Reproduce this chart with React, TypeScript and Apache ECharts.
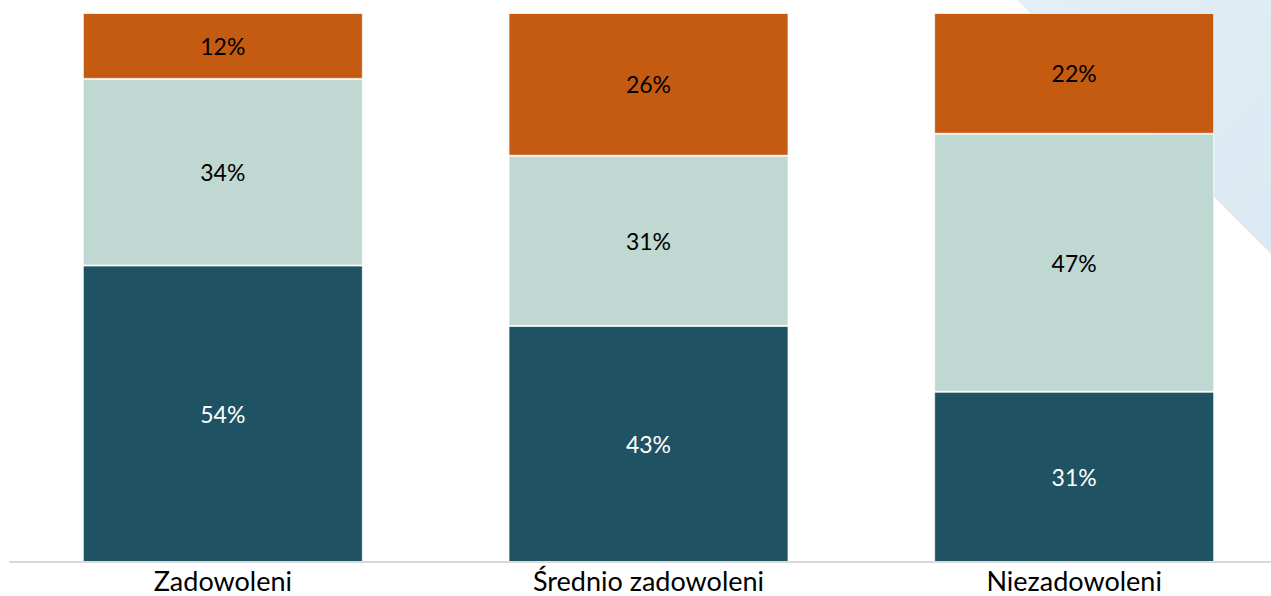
import React, { useEffect, useRef } from "react";
import * as echarts from "echarts";

const categories = ["Zadowoleni", "Średnio zadowoleni", "Niezadowoleni"];
const seriesBottom = [54, 43, 31];
const seriesMiddle = [34, 31, 47];
const seriesTop = [12, 26, 22];

export default function App() {
  const ref = useRef<HTMLDivElement>(null);
  useEffect(() => {
    const chart = echarts.init(ref.current!, null, { renderer: "svg" });
    const font = "Lato, 'Open Sans', sans-serif";
    const mk = (name: string, data: number[], color: string, labelColor: string) => ({
      name,
      type: "bar",
      stack: "s",
      data,
      barWidth: 280,
      itemStyle: { color, borderColor: "rgba(255,255,255,0.7)", borderWidth: 1 },
      label: {
        show: true,
        position: "inside",
        formatter: "{c}%",
        color: labelColor,
        fontSize: 23,
        fontFamily: font,
      },
    });
    chart.setOption({
      animation: false,
      graphic: [
        {
          type: "polygon",
          z: -10,
          silent: true,
          shape: { points: [[1017, 0], [1271, 0], [1271, 254]] },
          style: {
            fill: new echarts.graphic.LinearGradient(0, 0, 1, 1, [
              { offset: 0, color: "#e2eff6" },
              { offset: 1, color: "#dde9f2" },
            ]),
          },
        },
      ],
      grid: { left: 10, right: 0, top: 13, bottom: 34, containLabel: false },
      xAxis: {
        type: "category",
        data: categories,
        axisLine: { show: true, lineStyle: { color: "#d9d9d9", width: 2 } },
        axisTick: { show: false },
        axisLabel: { color: "#000", fontSize: 27, fontFamily: font, margin: 5 },
      },
      yAxis: { type: "value", min: 0, max: 100, show: false, splitLine: { show: false } },
      series: [
        mk("a", seriesBottom, "#1f5263", "#ffffff"),
        mk("b", seriesMiddle, "#bfd8d2", "#000000"),
        mk("c", seriesTop, "#c55a11", "#000000"),
      ],
    });
    return () => chart.dispose();
  }, []);
  return (
    <div
      style={{
        position: "fixed",
        left: 0,
        top: 0,
        width: 1271,
        height: 596,
        overflow: "hidden",
        background: "#fff",
      }}
    >
      <div ref={ref} style={{ width: 1287, height: 596 }} />
    </div>
  );
}
